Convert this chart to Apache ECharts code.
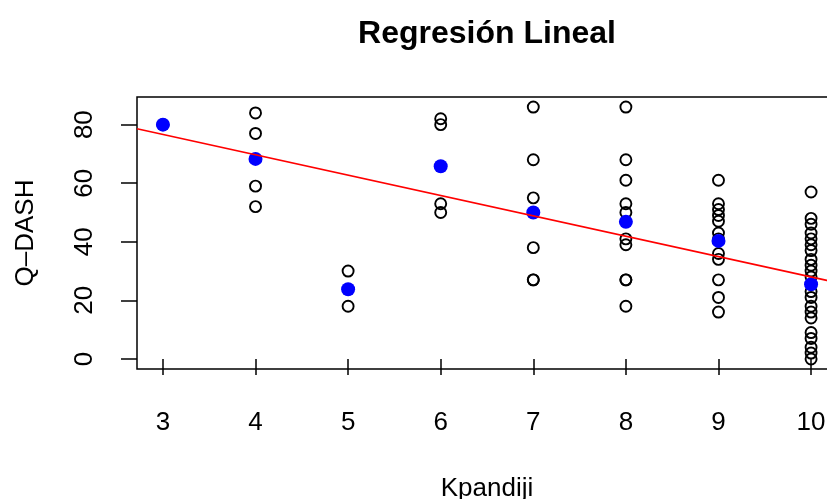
<!DOCTYPE html>
<html>
<head>
<meta charset="utf-8">
<script src="https://cdn.jsdelivr.net/npm/echarts@6/dist/echarts.min.js"></script>
<style>
html,body{margin:0;padding:0;background:#fff;overflow:hidden;width:827px;height:499px;}
#chart{width:860px;height:499px;}
</style>
</head>
<body>
<div id="chart"></div>
<script>
// ---- data ----
const kpandiji = [3, 4, 5, 6, 7, 8, 9, 10];
const qdash3 = [80];
const qdash4 = [84, 77, 59, 52];
const qdash5 = [30, 18];
const qdash6 = [82, 80, 53, 50];
const qdash7 = [86, 68, 55, 38, 27, 27];
const qdash8 = [86, 68, 61, 53, 50, 41, 39, 27, 27, 18];
const qdash9 = [61, 53, 51, 49, 47, 43, 41, 36, 34, 27, 21, 16];
const qdash10 = [57, 48, 46, 43, 41, 39, 37, 34, 32, 30, 28, 23, 21, 18, 16, 14, 9, 7, 4, 2, 0];
const meanQdash = [80, 68.3, 23.8, 65.8, 50.0, 46.8, 40.3, 25.5];
const regIntercept = 97.5;
const regSlope = -6.95;
const xTickValues = [3, 4, 5, 6, 7, 8, 9, 10];
const yTickValues = [0, 20, 40, 60, 80];
const xRange = [2.72, 10.28];
const yRange = [-3.44, 89.44];

// ---- build series data ----
const groups = [qdash3, qdash4, qdash5, qdash6, qdash7, qdash8, qdash9, qdash10];
const observed = [];
groups.forEach((vals, i) => vals.forEach(v => observed.push([kpandiji[i], v])));
const means = kpandiji.map((k, i) => [k, meanQdash[i]]);
const regLine = xRange.map(x => [x, regIntercept + regSlope * x]);

const font = '"Liberation Sans", Arial, Helvetica, sans-serif';
const chart = echarts.init(document.getElementById('chart'));
chart.setOption({
  animation: false,
  backgroundColor: '#fff',
  title: {
    text: 'Regresión Lineal',
    left: 482, top: 13, textAlign: 'center',
    textStyle: {fontFamily: font, fontSize: 32, fontWeight: 'bold', color: '#000'}
  },
  grid: {
    left: 137, top: 97, width: 700, height: 272,
    outerBoundsMode: 'none', containLabel: false,
    show: true, borderColor: '#000', borderWidth: 1.5, backgroundColor: 'transparent'
  },
  xAxis: {
    type: 'value', min: xRange[0], max: xRange[1],
    name: 'Kpandiji', nameLocation: 'middle', nameGap: 107,
    nameTextStyle: {fontFamily: font, fontSize: 26, color: '#000'},
    axisLine: {show: false},
    splitLine: {show: false},
    axisTick: {show: true, length: 16, customValues: xTickValues, lineStyle: {color: '#000', width: 1.5}},
    axisLabel: {customValues: xTickValues, margin: 41, fontFamily: font, fontSize: 26, color: '#000'}
  },
  yAxis: {
    type: 'value', min: yRange[0], max: yRange[1],
    name: 'Q\u2013DASH', nameLocation: 'middle', nameGap: 98,
    nameTextStyle: {fontFamily: font, fontSize: 26, color: '#000'},
    axisLine: {show: false},
    splitLine: {show: false},
    axisTick: {show: true, length: 16, customValues: yTickValues, lineStyle: {color: '#000', width: 1.5}},
    axisLabel: {customValues: yTickValues, rotate: 90, margin: 39, fontFamily: font, fontSize: 26, color: '#000'}
  },
  series: [
    {
      type: 'scatter', data: observed, symbol: 'circle', symbolSize: 11,
      itemStyle: {color: 'transparent', borderColor: '#000', borderWidth: 1.9, opacity: 1},
      silent: true
    },
    {
      type: 'line', data: regLine, showSymbol: false, symbol: 'none',
      lineStyle: {color: '#ff0000', width: 1.6}, silent: true
    },
    {
      type: 'scatter', data: means, symbol: 'circle', symbolSize: 14,
      itemStyle: {color: '#0000ff', opacity: 1}, silent: true
    }
  ]
});
</script>
</body>
</html>
